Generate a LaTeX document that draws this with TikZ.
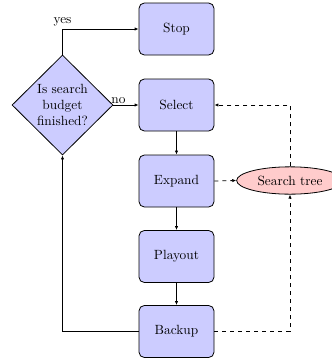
\documentclass[tikz,border=0pt]{standalone}
\usetikzlibrary{shapes.geometric,arrows.meta}
\begin{document}
\begin{tikzpicture}[x=0.75pt,y=-0.75pt,
  stepbox/.style={draw,semithick,rounded corners=4pt,fill=blue!20,minimum width=56.25pt,minimum height=39pt,inner sep=0pt},
  decision/.style={draw,semithick,diamond,aspect=1,fill=blue!20,minimum width=75.75pt,minimum height=75pt,inner sep=0pt,align=center},
  store/.style={draw,semithick,ellipse,fill=red!20,minimum width=80pt,minimum height=20.5pt,inner sep=0pt},
  flow/.style={semithick,-{Latex[length=3pt,width=2.5pt]}},
  dflow/.style={semithick,dashed,-{Latex[length=3pt,width=2.5pt]}}]
\useasboundingbox (0,0) rectangle (332,358);
\node[stepbox] (stop) at (176.5,29) {Stop};
\node[stepbox] (select) at (176.5,105) {Select};
\node[stepbox] (expand) at (176.5,181) {Expand};
\node[stepbox] (playout) at (176.5,256.5) {Playout};
\node[stepbox] (backup) at (176.5,331.5) {Backup};
\node[decision] (dec) at (62.5,105) {Is search\\budget\\finished?};
\node[store] (tree) at (290,180.5) {Search tree};
\coordinate (yc) at (62.5,29);
\coordinate (sc) at (290,105);
\coordinate (bc) at (290,331.5);
\coordinate (lc) at (62.5,331.5);
\draw[flow] (dec.north) -- (yc) node[pos=1,above,inner sep=2pt] {yes} -- (stop.west);
\draw[flow] (dec.east) -- node[pos=0.2,above,inner sep=1pt] {no} (select.west);
\draw[flow] (select) -- (expand);
\draw[flow] (expand) -- (playout);
\draw[flow] (playout) -- (backup);
\draw[flow] (backup.west) -- (lc) -- (dec.south);
\draw[dflow] (tree.north) -- (sc) -- (select.east);
\draw[dflow] (expand.east) -- (tree.west);
\draw[dflow] (backup.east) -- (bc) -- (tree.south);
\end{tikzpicture}
\end{document}
